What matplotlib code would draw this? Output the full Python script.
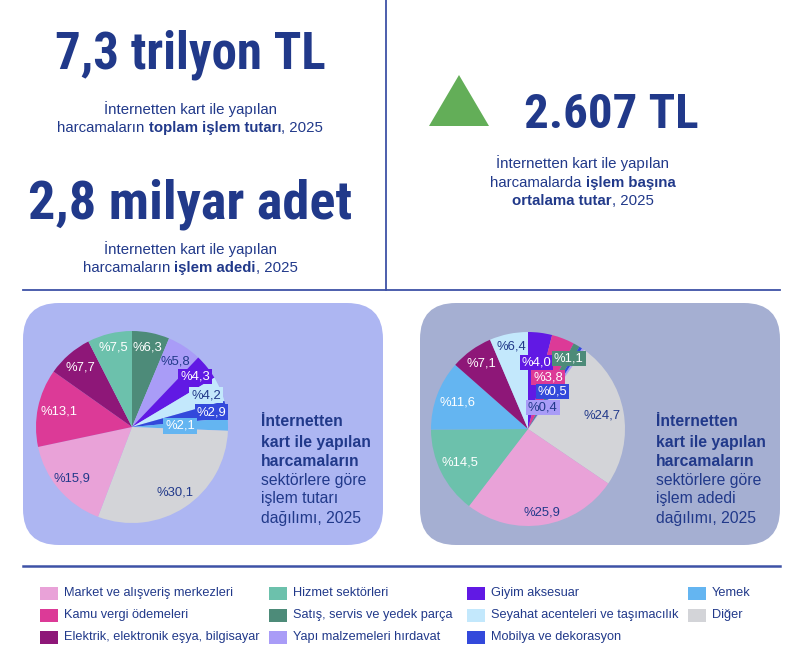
import matplotlib
matplotlib.use("Agg")
import matplotlib.pyplot as plt
from matplotlib import font_manager as fm
from matplotlib.patches import FancyBboxPatch, Rectangle, Polygon
import numpy as np

# ---------------- data ----------------
categories = [
    "Market ve alışveriş merkezleri", "Kamu vergi ödemeleri",
    "Elektrik, elektronik eşya, bilgisayar", "Hizmet sektörleri",
    "Satış, servis ve yedek parça", "Yapı malzemeleri hırdavat",
    "Giyim aksesuar", "Seyahat acenteleri ve taşımacılık",
    "Mobilya ve dekorasyon", "Yemek", "Diğer",
]
cat_colors = ["#E9A2D8", "#DC3A97", "#8E1778", "#6CC1AC", "#4D8B79", "#A99CF7",
              "#6119E4", "#C3E8FC", "#3349DB", "#64B5F1", "#D3D4D8"]

# pie 1: share of transaction amount (clockwise from top)
amount_cats = ["Satış, servis ve yedek parça", "Yapı malzemeleri hırdavat", "Giyim aksesuar",
               "Seyahat acenteleri ve taşımacılık", "Mobilya ve dekorasyon", "Yemek", "Diğer",
               "Market ve alışveriş merkezleri", "Kamu vergi ödemeleri",
               "Elektrik, elektronik eşya, bilgisayar", "Hizmet sektörleri"]
amount_share = [6.3, 5.8, 4.3, 4.2, 2.9, 2.1, 30.1, 15.9, 13.1, 7.7, 7.5]

# pie 2: share of transaction count (clockwise from top)
count_cats = ["Giyim aksesuar", "Kamu vergi ödemeleri", "Satış, servis ve yedek parça",
              "Mobilya ve dekorasyon", "Yapı malzemeleri hırdavat", "Diğer",
              "Market ve alışveriş merkezleri", "Hizmet sektörleri", "Yemek",
              "Elektrik, elektronik eşya, bilgisayar", "Seyahat acenteleri ve taşımacılık"]
count_share = [4.0, 3.8, 1.1, 0.5, 0.4, 24.7, 25.9, 14.5, 11.6, 7.1, 6.4]

headline_amount = "7,3 trilyon TL"
headline_count = "2,8 milyar adet"
headline_avg = "2.607 TL"

# ---------------- style ----------------
NAVY = "#21398A"
LINE = "#3E52A6"
FONT = ["Liberation Sans", "DejaVu Sans"]


def pick_big_font():
    """Find the narrowest bold face available for the headline numbers."""
    entries = fm.fontManager.ttflist
    prefs = ["roboto condensed", "liberation sans narrow", "open sans condensed",
             "oswald", "bebas", "condensed", "narrow"]
    for p in prefs:
        found = [f for f in entries
                 if (p in f.name.lower() or p.replace(" ", "") in f.fname.lower().replace("-", ""))
                 and "dejavu" not in f.name.lower()]
        bold = [f for f in found if (isinstance(f.weight, int) and f.weight >= 700)
                or str(f.weight).lower() in ("bold", "heavy", "black", "extra bold")
                or "bold" in f.fname.lower()]
        if bold:
            bold.sort(key=lambda f: ("italic" in f.fname.lower(), abs((f.weight if isinstance(f.weight, int) else 700) - 700)))
            return fm.FontProperties(fname=bold[0].fname)
    for fam in ["Noto Sans CJK JP", "Liberation Sans"]:
        try:
            fm.findfont(fm.FontProperties(family=fam, weight="bold"), fallback_to_default=False)
            return fm.FontProperties(family=fam, weight="bold")
        except Exception:
            pass
    return fm.FontProperties(family="DejaVu Sans", weight="bold")


BIG_FP = pick_big_font()

light_cats = {"Market ve alışveriş merkezleri", "Yapı malzemeleri hırdavat",
              "Seyahat acenteleri ve taşımacılık", "Diğer"}
color_of = dict(zip(categories, cat_colors))

amount_lbl_dist = [0.84, 0.82, 0.84, 0.84, 0.84, 0.50, 0.82, 0.82, 0.78, 0.82, 0.85]
amount_boxed = {"Giyim aksesuar", "Seyahat acenteleri ve taşımacılık",
                "Mobilya ve dekorasyon", "Yemek"}
count_lbl_dist = [0.69, 0.57, 0.84, 0.46, 0.27, 0.78, 0.87, 0.78, 0.78, 0.83, 0.87]
count_boxed = {"Giyim aksesuar", "Kamu vergi ödemeleri", "Satış, servis ve yedek parça",
               "Mobilya ve dekorasyon", "Yapı malzemeleri hırdavat"}

W, H = 800, 667
fig = plt.figure(figsize=(W / 100, H / 100), dpi=100)
fig.patch.set_facecolor("white")
ax = fig.add_axes([0, 0, 1, 1])
ax.set_xlim(0, W)
ax.set_ylim(H, 0)
ax.axis("off")
renderer = fig.canvas.get_renderer()


def ink_w(s, size, weight):
    t = ax.text(0, 0, s, fontsize=size, fontweight=weight, family=FONT)
    w = t.get_window_extent(renderer).width
    t.remove()
    return w


def adv(s, size, weight):
    return ink_w("|" + s + "|", size, weight) - ink_w("||", size, weight)


def rich_line(cx, y, segments, size):
    widths = [adv(s, size, w) for s, w in segments]
    x = cx - sum(widths) / 2
    for (s, w), wd in zip(segments, widths):
        ax.text(x, y, s, fontsize=size, fontweight=w, family=FONT, color=NAVY,
                ha="left", va="center")
        x += wd


def headline(cx, baseline, s, target_w):
    fp = BIG_FP.copy()
    fp.set_size(40)
    t = ax.text(0, 0, s, fontproperties=fp)
    w = t.get_window_extent(renderer).width
    t.remove()
    fp.set_size(40 * target_w / w)
    ax.text(cx, baseline, s, fontproperties=fp, color=NAVY, ha="center", va="baseline")


# ---------------- separators ----------------
ax.plot([386, 386], [0, 290], color=LINE, lw=1.3)
ax.plot([23, 780], [290, 290], color=LINE, lw=1.3)
ax.plot([23, 780], [566, 566], color=LINE, lw=1.8)

# ---------------- headlines ----------------
SUB = 10.8
headline(190, 68, headline_amount, 270)
rich_line(190, 109, [("İnternetten kart ile yapılan", "normal")], SUB)
rich_line(190, 128, [("harcamaların ", "normal"), ("toplam işlem tutarı", "bold"),
                     (", 2025", "normal")], SUB)

headline(190, 218, headline_count, 324)
rich_line(190, 249, [("İnternetten kart ile yapılan", "normal")], SUB)
rich_line(190, 268, [("harcamaların ", "normal"), ("işlem adedi", "bold"),
                     (", 2025", "normal")], SUB)

ax.add_patch(Polygon([[429, 126], [489, 126], [459, 75]], closed=True,
                     facecolor="#63AE58", edgecolor="none"))
headline(611, 128, headline_avg, 174)
rich_line(583, 163, [("İnternetten kart ile yapılan", "normal")], SUB)
rich_line(583, 183, [("harcamalarda ", "normal"), ("işlem başına", "bold")], SUB)
rich_line(583, 201, [("ortalama tutar", "bold"), (", 2025", "normal")], SUB)

# ---------------- panels ----------------
ax.add_patch(FancyBboxPatch((23, 303), 360, 242, boxstyle="round,pad=0,rounding_size=36",
                            facecolor="#ADB6F2", edgecolor="none"))
ax.add_patch(FancyBboxPatch((420, 303), 360, 242, boxstyle="round,pad=0,rounding_size=36",
                            facecolor="#A5AFD2", edgecolor="none"))


def panel_text(x, last2):
    ys = [422, 442, 461, 480, 499, 518]
    lines = [("İnternetten", "bold"), ("kart ile yapılan", "bold"), ("harcamaların", "bold"),
             ("sektörlere göre", "normal"), (last2, "normal"), ("dağılımı, 2025", "normal")]
    for y, (s, w) in zip(ys, lines):
        ax.text(x, y, s, fontsize=11.3, fontweight=w, family=FONT, color=NAVY,
                ha="left", va="center")


panel_text(261, "işlem tutarı")
panel_text(656, "işlem adedi")


# ---------------- pies ----------------
def draw_pie(cx, cy, r, cats, vals, dists, boxed):
    pax = fig.add_axes([(cx - r) / W, 1 - (cy + r) / H, 2 * r / W, 2 * r / H])
    cols = [color_of[c] for c in cats]
    wedges, _ = pax.pie(vals, colors=cols, startangle=90, counterclock=False, radius=1,
                        wedgeprops=dict(linewidth=0))
    pax.set_xlim(-1, 1)
    pax.set_ylim(-1, 1)
    pax.axis("off")
    for w, c, v, d in zip(wedges, cats, vals, dists):
        th = np.deg2rad((w.theta1 + w.theta2) / 2)
        txt = "%" + f"{v:.1f}".replace(".", ",")
        tc = NAVY if c in light_cats else "white"
        kw = {}
        if c in boxed:
            kw["bbox"] = dict(boxstyle="square,pad=0.14", facecolor=color_of[c], edgecolor="none")
        pax.text(d * np.cos(th), d * np.sin(th), txt, ha="center", va="center",
                 fontsize=9.4, color=tc, family=FONT, **kw)


draw_pie(132, 427, 96, amount_cats, amount_share, amount_lbl_dist, amount_boxed)
draw_pie(528, 429, 97, count_cats, count_share, count_lbl_dist, count_boxed)

# ---------------- legend ----------------
legend_cols = [categories[0:3], categories[3:6], categories[6:9], categories[9:11]]
col_x = [40, 269, 467, 688]
row_y = [593, 615, 637]
for cx, col in zip(col_x, legend_cols):
    for ry, c in zip(row_y, col):
        ax.add_patch(Rectangle((cx, ry - 6.5), 18, 13, facecolor=color_of[c], edgecolor="none"))
        ax.text(cx + 24, ry, c, fontsize=9.2, family=FONT, color=NAVY, ha="left", va="center")

fig.savefig("out.png", dpi=100, facecolor="white")
